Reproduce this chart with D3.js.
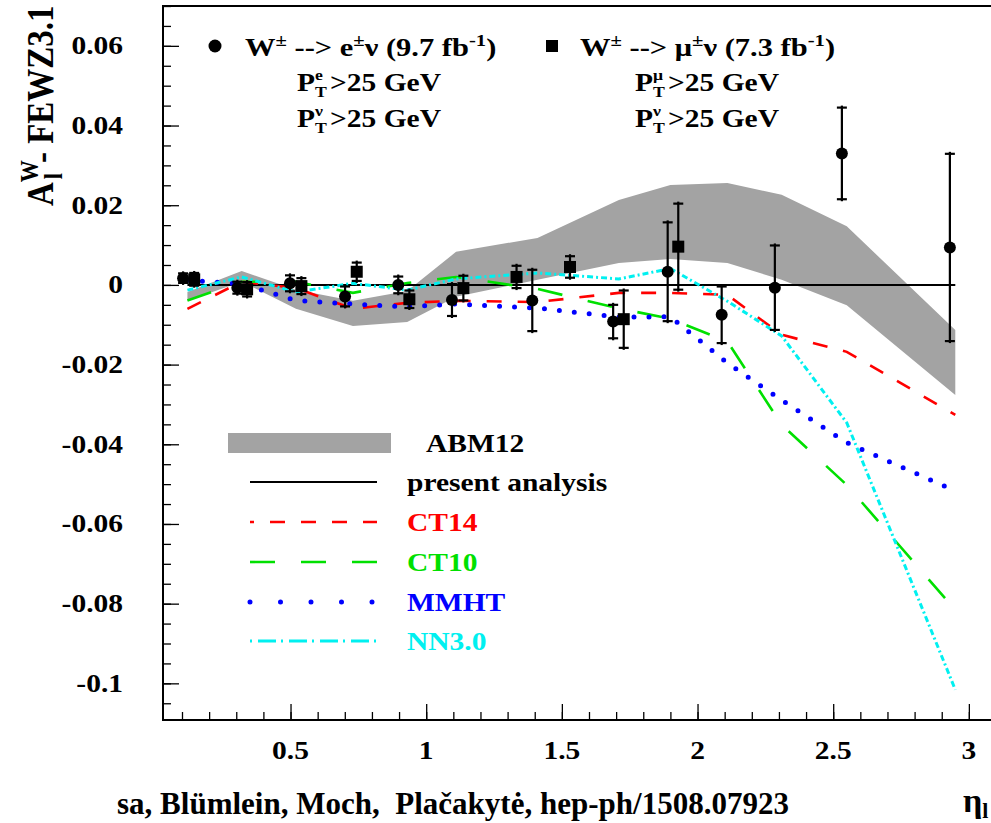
<!DOCTYPE html>
<html><head><meta charset="utf-8">
<script src="https://cdn.jsdelivr.net/npm/d3@7/dist/d3.min.js"></script>
<style>
html,body{margin:0;padding:0;background:#fff;}
svg{display:block;}
text{font-family:"Liberation Serif","Times New Roman",serif;font-weight:bold;}
</style></head><body>
<svg id="chart" width="991" height="823"></svg>
<script>
// eta nodes at which the theory predictions are evaluated
const theoryEta = [0.12, 0.32, 0.52, 0.73, 0.93, 1.11, 1.41, 1.71, 1.90, 2.11, 2.31, 2.55, 2.95];
const abm12Upper = [-0.0018, 0.0035, -0.0012, -0.0040, -0.0015, 0.0083, 0.0118, 0.0213, 0.0251, 0.0256, 0.0226, 0.0147, -0.0113];
const abm12Lower = [-0.0040, 0.0008, -0.0060, -0.0103, -0.0093, -0.0030, 0.0013, 0.0055, 0.0065, 0.0055, 0.0013, -0.0051, -0.0276];
const presentAnalysis = [0, 0, 0, 0, 0, 0, 0, 0, 0, 0, 0, 0, 0];
const ct14 = [-0.0060, 0.0008, -0.0008, -0.0060, -0.0045, -0.0040, -0.0043, -0.0020, -0.0020, -0.0025, -0.0125, -0.0168, -0.0326];
const ct10 = [-0.0039, 0.0008, 0.0008, -0.0020, 0.0005, 0.0020, -0.0010, -0.0059, -0.0085, -0.0142, -0.0351, -0.0502, -0.0816];
const mmht = [0.0012, 0.0002, -0.0039, -0.0048, -0.0055, -0.0048, -0.0058, -0.0081, -0.0080, -0.0196, -0.0289, -0.0396, -0.0517];
const nn30 = [-0.0013, 0.0020, -0.0018, 0.0004, -0.0013, 0.0015, 0.0030, 0.0015, 0.0041, -0.0041, -0.0128, -0.0346, -0.1016];

// W -> e nu measurement (9.7 fb-1)
const elecEta = [0.104, 0.304, 0.498, 0.701, 0.897, 1.095, 1.391, 1.689, 1.890, 2.089, 2.285, 2.532, 2.930];
const elecVal = [0.0017, -0.0007, 0.0004, -0.0029, 0.0000, -0.0038, -0.0039, -0.0092, 0.0033, -0.0075, -0.0007, 0.0330, 0.0094];
const elecErr = [0.0012, 0.0015, 0.0020, 0.0025, 0.0021, 0.0040, 0.0077, 0.0042, 0.0124, 0.0071, 0.0106, 0.0115, 0.0235];

// W -> mu nu measurement (7.3 fb-1)
const muonEta = [0.145, 0.340, 0.540, 0.744, 0.938, 1.137, 1.333, 1.530, 1.728, 1.929];
const muonVal = [0.0014, -0.0011, -0.0003, 0.0033, -0.0036, -0.0008, 0.0020, 0.0045, -0.0086, 0.0096];
const muonErr = [0.0016, 0.0018, 0.0020, 0.0023, 0.0022, 0.0031, 0.0028, 0.0027, 0.0072, 0.0108];

const yTickValues = [-0.1, -0.08, -0.06, -0.04, -0.02, 0, 0.02, 0.04, 0.06];
const yTickLabels = ["-0.1", "-0.08", "-0.06", "-0.04", "-0.02", "0", "0.02", "0.04", "0.06"];
const xTickValues = [0.5, 1, 1.5, 2, 2.5, 3];
const xTickLabels = ["0.5", "1", "1.5", "2", "2.5", "3"];

const legendNames = ["ABM12", "present analysis", "CT14", "CT10", "MMHT", "NN3.0"];

const svg = d3.select("#chart");
const SX = 1.18;          // horizontal glyph stretch
const FS = 25;            // base font size

const x = d3.scaleLinear().domain([0.03, 3.1]).range([163, 996]);
const y = d3.scaleLinear().domain([-0.1092, 0.07]).range([720, 6]);

function label(parent, px, py, str, opts = {}) {
  const g = parent.append("g")
    .attr("transform", `translate(${px},${py}) scale(${opts.sx ?? SX},1)`);
  return g.append("text")
    .attr("font-size", opts.size ?? FS)
    .attr("fill", opts.color ?? "#000")
    .attr("text-anchor", opts.anchor ?? "start")
    .text(str);
}

// text with inline super/subscripts
function rich(parent, px, py, parts, opts = {}) {
  const size = opts.size ?? FS;
  const g = parent.append("g")
    .attr("transform", `translate(${px},${py}) scale(${opts.sx ?? SX},1)`);
  const t = g.append("text").attr("font-size", size).attr("fill", opts.color ?? "#000");
  let cur = 0;
  parts.forEach(([s, k]) => {
    const target = k === "sup" ? -0.42 * size : k === "sub" ? 0.25 * size : 0;
    const ts = t.append("tspan").attr("dy", target - cur).text(s);
    if (k !== "n") ts.attr("font-size", size * 0.68);
    cur = target;
  });
  return t;
}

// ---------- ABM12 band ----------
const idx = d3.range(theoryEta.length);
svg.append("path")
  .datum(idx)
  .attr("fill", "#a3a3a3")
  .attr("d", d3.area()
    .x(i => x(theoryEta[i]))
    .y0(i => y(abm12Lower[i]))
    .y1(i => y(abm12Upper[i]))(idx));

// ---------- theory curves ----------
const lineOf = vals => d3.line().x(i => x(theoryEta[i])).y(i => y(vals[i]))(idx);

const curveStyles = [
  { vals: presentAnalysis, color: "#000", width: 2, dash: null, cap: "butt" },
  { vals: ct14, color: "#ff0000", width: 2.6, dash: "15,16", cap: "butt" },
  { vals: ct10, color: "#00e000", width: 2.6, dash: "25,26", cap: "butt" },
  { vals: mmht, color: "#0000ff", width: 5, dash: "0,15", cap: "round" },
  { vals: nn30, color: "#00f0f0", width: 3, dash: "6,3,2,3", cap: "butt" }
];
curveStyles.forEach(c => {
  svg.append("path")
    .attr("d", lineOf(c.vals))
    .attr("fill", "none")
    .attr("stroke", c.color)
    .attr("stroke-width", c.width)
    .attr("stroke-linecap", c.cap)
    .attr("stroke-dasharray", c.dash);
});

// ---------- data points ----------
function errorBars(etas, vals, errs) {
  const g = svg.append("g").attr("stroke", "#000").attr("stroke-width", 2.2);
  etas.forEach((e, i) => {
    const cx = x(e), top = y(vals[i] + errs[i]), bot = y(vals[i] - errs[i]);
    g.append("line").attr("x1", cx).attr("x2", cx).attr("y1", top - 2).attr("y2", bot + 2);
    g.append("line").attr("x1", cx - 5).attr("x2", cx + 5).attr("y1", top).attr("y2", top);
    g.append("line").attr("x1", cx - 5).attr("x2", cx + 5).attr("y1", bot).attr("y2", bot);
  });
}
errorBars(elecEta, elecVal, elecErr);
errorBars(muonEta, muonVal, muonErr);

svg.append("g").selectAll("circle").data(elecEta).join("circle")
  .attr("cx", d => x(d)).attr("cy", (d, i) => y(elecVal[i])).attr("r", 6).attr("fill", "#000");
svg.append("g").selectAll("rect").data(muonEta).join("rect")
  .attr("x", d => x(d) - 6).attr("y", (d, i) => y(muonVal[i]) - 6)
  .attr("width", 12).attr("height", 12).attr("fill", "#000");

// ---------- axes ----------
const yMajor = d3.axisRight(y).tickValues(yTickValues).tickSize(16).tickFormat("");
const yMinor = d3.axisRight(y).tickValues(d3.range(-0.105, 0.0701, 0.005)).tickSize(8).tickFormat("");
const xMajor = d3.axisTop(x).tickValues(xTickValues).tickSize(16).tickFormat("");
const xMinor = d3.axisTop(x).tickValues(d3.range(0.1, 3.05, 0.1)).tickSize(8).tickFormat("");

[[yMinor, "translate(163,0)"], [yMajor, "translate(163,0)"],
 [xMinor, "translate(0,720)"], [xMajor, "translate(0,720)"]].forEach(([ax, tr]) => {
  const g = svg.append("g").attr("transform", tr).call(ax);
  g.select(".domain").remove();
  g.selectAll(".tick line").attr("stroke", "#000").attr("stroke-width", 1.3);
});

// frame
svg.append("path")
  .attr("d", "M163,720 L163,6 L996,6 L996,720 Z")
  .attr("fill", "none").attr("stroke", "#000").attr("stroke-width", 2);

// tick labels
yTickValues.forEach((v, i) => label(svg, 123, y(v) + 8.5, yTickLabels[i], { anchor: "end" }));
xTickValues.forEach((v, i) => label(svg, x(v), 759, xTickLabels[i], { anchor: "middle" }));

// y-axis title
{
  const g = svg.append("g").attr("transform", "translate(53,206) scale(1.12,1) rotate(-90)");
  const t = g.append("text").attr("font-size", 33);
  t.append("tspan").text("A");
  t.append("tspan").attr("font-size", 22).attr("dy", -13).text("W");
  t.append("tspan").attr("font-size", 22).attr("dx", -19).attr("dy", 21).text("l");
  t.append("tspan").attr("dy", -8).attr("dx", 10).text("- FEWZ3.1");
}

// x-axis title (partly outside the page)
{
  const t = svg.append("text").attr("x", 963).attr("y", 812).attr("font-size", 34);
  t.append("tspan").text("η");
  t.append("tspan").attr("font-size", 22).attr("dy", 6).text("l");
}

// reference line
svg.append("text").attr("x", 117).attr("y", 814).attr("font-size", 31)
  .style("white-space", "pre")
  .attr("textLength", 672).attr("lengthAdjust", "spacingAndGlyphs")
  .text("sa, Blümlein, Moch,  Plačakytė, hep-ph/1508.07923");

// ---------- top legend (measurements) ----------
svg.append("circle").attr("cx", 215).attr("cy", 46).attr("r", 6.5).attr("fill", "#000");
rich(svg, 245, 56, [["W", "n"], ["±", "sup"], [" --> e", "n"], ["±", "sup"], ["ν (9.7 fb", "n"], ["-1", "sup"], [")", "n"]], { sx: 1.22 });
svg.append("rect").attr("x", 546).attr("y", 40).attr("width", 12).attr("height", 12).attr("fill", "#000");
rich(svg, 580, 56, [["W", "n"], ["±", "sup"], [" --> μ", "n"], ["±", "sup"], ["ν (7.3 fb", "n"], ["-1", "sup"], [")", "n"]], { sx: 1.22 });

// P_T threshold lines: stacked sub/superscript after "P"
function ptCut(px, py, sup) {
  label(svg, px, py, "P");
  label(svg, px + 18, py - 11, sup, { size: 15 });
  label(svg, px + 18, py + 6, "T", { size: 15 });
  label(svg, px + 33, py, ">25 GeV");
}
ptCut(297, 91, "e");
ptCut(297, 127, "ν");
ptCut(635, 91, "μ");
ptCut(635, 127, "ν");

// ---------- bottom legend (predictions) ----------
const lg = svg.append("g");
lg.append("rect").attr("x", 228).attr("y", 433).attr("width", 163).attr("height", 20).attr("fill", "#a3a3a3");
label(lg, 426, 452, legendNames[0]);
const legendRows = [
  { y: 482, color: "#000", width: 2, dash: null, cap: "butt", off: 0, text: "#000" },
  { y: 522, color: "#ff0000", width: 2.6, dash: "15,16", cap: "butt", off: 11, text: "#ff0000" },
  { y: 562, color: "#00e000", width: 2.6, dash: "25,26", cap: "butt", off: 0, text: "#00e000" },
  { y: 602, color: "#0000ff", width: 5, dash: "0,30.5", cap: "round", off: 0, text: "#0000ff" },
  { y: 641, color: "#00f0f0", width: 3, dash: "2,6,18,5", cap: "butt", off: 0, text: "#00f0f0" }
];
legendRows.forEach((r, i) => {
  lg.append("line").attr("x1", 250).attr("x2", 377).attr("y1", r.y).attr("y2", r.y)
    .attr("stroke", r.color).attr("stroke-width", r.width)
    .attr("stroke-dasharray", r.dash).attr("stroke-dashoffset", r.off)
    .attr("stroke-linecap", r.cap);
  label(lg, 407, r.y + 9, legendNames[i + 1], { color: r.text });
});
</script>
</body></html>
